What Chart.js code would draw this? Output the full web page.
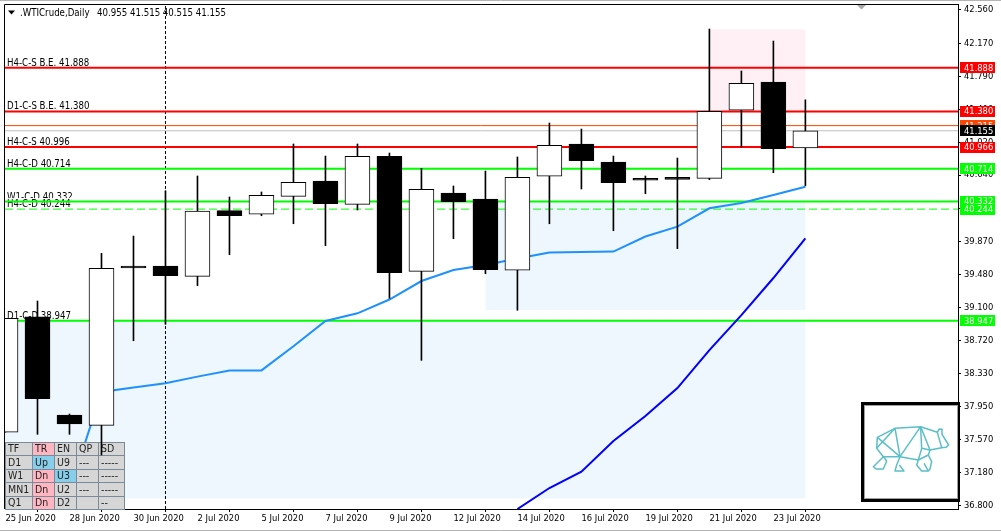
<!DOCTYPE html>
<html>
<head>
<meta charset="utf-8">
<script src="https://cdn.jsdelivr.net/npm/chart.js@4.4.0/dist/chart.umd.min.js"></script>
<style>
  html, body { margin: 0; padding: 0; background: #fff; }
  canvas { display: block; }
</style>
</head>
<body>
<canvas id="wtiChart" width="1001" height="532"></canvas>
<script>
// daily bars, 25 Jun .. 24 Jul 2020
const dates = ["25 Jun 2020", "26 Jun 2020", "28 Jun 2020", "29 Jun 2020", "30 Jun 2020", "1 Jul 2020",
  "2 Jul 2020", "3 Jul 2020", "5 Jul 2020", "6 Jul 2020", "7 Jul 2020", "8 Jul 2020", "9 Jul 2020",
  "10 Jul 2020", "12 Jul 2020", "13 Jul 2020", "14 Jul 2020", "15 Jul 2020", "16 Jul 2020", "17 Jul 2020",
  "19 Jul 2020", "20 Jul 2020", "21 Jul 2020", "22 Jul 2020", "23 Jul 2020", "24 Jul 2020"];
const opens  = [37.650, 38.993, 37.851, 37.731, 39.570, 39.583, 39.463, 40.226, 40.184, 40.393, 40.571, 40.300, 40.858,
  39.521, 40.431, 40.362, 39.533, 40.626, 41.001, 40.792, 40.585, 40.590, 40.602, 41.393, 41.722, 40.955];
const highs  = [38.975, 39.176, 37.862, 39.730, 39.931, 40.458, 40.629, 40.385, 40.443, 41.001, 40.861, 41.001, 40.896,
  40.718, 40.513, 40.687, 40.850, 41.245, 41.175, 40.861, 40.629, 40.838, 42.338, 41.850, 42.198, 41.515];
const lows   = [37.650, 37.626, 37.626, 37.386, 38.714, 38.905, 39.354, 39.714, 40.167, 40.074, 39.819, 40.234, 39.207,
  38.486, 39.900, 39.493, 39.068, 40.074, 40.478, 39.993, 40.423, 39.784, 40.586, 40.966, 40.667, 40.515];
const closes = [38.975, 38.040, 37.746, 39.556, 39.560, 39.470, 40.222, 40.167, 40.405, 40.556, 40.307, 40.858, 39.505,
  40.474, 40.330, 39.540, 40.614, 40.986, 40.807, 40.551, 40.580, 40.598, 41.381, 41.707, 40.946, 41.155];

// moving averages
const maFast = [null, null, 36.967, 38.118, 38.170, 38.219, 38.297, 38.367, 38.369, 38.649, 38.943, 39.033, 39.193,
  39.408, 39.536, 39.594, 39.670, 39.740, 39.746, 39.751, 39.926, 40.041, 40.254, 40.315, 40.408, 40.505];
const maSlow = [null, null, null, null, null, null, null, null, null, null, null, null, null,
  null, null, null, 36.757, 37.002, 37.191, 37.548, 37.839, 38.164, 38.605, 39.011, 39.443, 39.905];

// horizontal levels
const levelValues = [41.888, 41.380, 41.215, 41.155, 40.966, 40.714, 40.332, 40.244, 38.947];
const levelNotes = ["H4-C-S B.E. 41.888", "D1-C-S B.E. 41.380", "", "", "H4-C-S 40.996", "H4-C-D 40.714",
  "W1-C-D 40.332", "H4-C-D 40.244", "D1-C-D 38.947"];
const levelColors = ["#ff0000", "#ff0000", "#ff4500", "#c0c0c0", "#ff0000", "#00ff00", "#00ff00", "#00ff00", "#00ff00"];
const levelWidths = [2, 2, 1, 1, 2, 2, 2, 1, 2];
const levelDashed = [false, false, false, false, false, false, false, true, false];
const tagColors = ["#ff0000", "#ff0000", "#ff4500", "#000000", "#ff0000", "#00ff00", "#00ff00", "#00ff00", "#00ff00"];

// shaded zones (bar index from/to, price top/bottom)
const zoneFrom   = [22, 15, -1];
const zoneTo     = [25, 25, 25];
const zoneTop    = [42.335, 40.332, 38.947];
const zoneBottom = [41.380, 39.070, 36.881];
const zoneColors = ["#fff0f5", "#eef6fe", "#eef6fe"];

const cursorBar = 5;

const yTicks = [42.560, 42.170, 41.790, 41.400, 41.020, 40.640, 40.250, 39.870, 39.480, 39.100,
  38.720, 38.330, 37.950, 37.570, 37.180, 36.800];
const xTicks = [0, 2, 4, 6, 8, 10, 12, 14, 16, 18, 20, 22, 24];

const tableRows = [
  ["TF", "TR", "EN", "QP", "SD"],
  ["D1", "Up", "U9", "---", "-----"],
  ["W1", "Dn", "U3", "---", "-----"],
  ["MN1", "Dn", "U2", "---", "-----"],
  ["Q1", "Dn", "D2", "", "--"]
];
const tableTint = [
  [0, 2, 0, 0, 0],
  [0, 1, 0, 0, 0],
  [0, 2, 1, 0, 0],
  [0, 2, 0, 0, 0],
  [0, 2, 0, 0, 0]
];

const FONT = '"DejaVu Sans Condensed", "Liberation Sans", Arial, sans-serif';
const X_MIN = -0.5 / 32, X_MAX = 29.77;
const Y_MIN = 36.758, Y_MAX = 42.6285;
const last = closes.length - 1;

const idx = dates.map((d, i) => i);

const levelSets = levelValues.map((v, i) => ({
  type: "line",
  data: [{ x: X_MIN, y: v }, { x: X_MAX, y: v }],
  borderColor: levelColors[i],
  borderWidth: levelWidths[i],
  borderDash: levelDashed[i] ? [8, 4] : [],
  pointRadius: 0,
  order: 5
}));

// doji bodies show as a plain black bar
const bodyColor = (i) => (closes[i] >= opens[i] && Math.abs(closes[i] - opens[i]) > 0.02) ? "#ffffff" : "#000000";

const datasets = [
  ...levelSets,
  {
    type: "line",
    data: [{ x: cursorBar, y: Y_MIN }, { x: cursorBar, y: Y_MAX }],
    borderColor: "#000",
    borderWidth: 1,
    borderDash: [3, 2],
    pointRadius: 0,
    order: 5
  },
  {
    type: "line",
    data: idx.map(i => ({ x: i, y: maFast[i] })),
    borderColor: "#1e90ff",
    borderWidth: 2,
    pointRadius: 0,
    tension: 0,
    order: 3
  },
  {
    type: "line",
    data: idx.map(i => ({ x: i, y: maSlow[i] })),
    borderColor: "#0000ff",
    borderWidth: 2,
    pointRadius: 0,
    tension: 0,
    order: 3
  },
  {
    id: "wicks",
    type: "bar",
    data: idx.map(i => ({ x: i, y: [lows[i], highs[i]] })),
    backgroundColor: "#000",
    borderWidth: 0,
    barThickness: 1,
    grouped: false,
    order: 2
  },
  {
    type: "bar",
    data: idx.map(i => ({ x: i, y: [opens[i], closes[i]] })),
    backgroundColor: idx.map(bodyColor),
    borderColor: "#000",
    borderWidth: 1,
    borderSkipped: false,
    barThickness: 25,
    minBarLength: 2,
    grouped: false,
    order: 1
  }
];

function font(size) {
  return size + "px " + FONT;
}

const mtOverlay = {
  id: "mtOverlay",
  beforeDatasetsDraw(chart) {
    const { ctx, chartArea: a, scales: { x, y } } = chart;
    ctx.save();
    ctx.beginPath();
    ctx.rect(a.left, a.top, a.right - a.left, a.bottom - a.top);
    ctx.clip();
    zoneFrom.forEach((f, i) => {
      const x0 = x.getPixelForValue(f), x1 = x.getPixelForValue(zoneTo[i]);
      const y0 = y.getPixelForValue(zoneTop[i]), y1 = y.getPixelForValue(zoneBottom[i]);
      ctx.fillStyle = zoneColors[i];
      ctx.fillRect(x0, y0, x1 - x0, y1 - y0);
    });
    // level notes at the left
    ctx.font = font(9.6);
    ctx.textBaseline = "alphabetic";
    levelNotes.forEach((t, i) => {
      if (!t) return;
      const ly = y.getPixelForValue(levelValues[i]);
      const w = ctx.measureText(t).width;
      ctx.fillStyle = "#fff";
      ctx.fillRect(6, ly - 11, w + 2, 10);
      ctx.fillStyle = "#000";
      ctx.fillText(t, 7, ly - 2);
    });
    ctx.restore();
  },
  beforeDatasetDraw(chart, args) {
    if (chart.data.datasets[args.index].id !== "wicks") return;
    const { ctx } = chart;
    const cols = [5, 32, 54, 76, 98, 124];
    const rows = [442, 455, 469, 482, 496, 509];
    const tints = ["#d6d6d6", "#87ceeb", "#ffb6c1"];
    ctx.save();
    ctx.font = font(10.5);
    ctx.textBaseline = "middle";
    tableRows.forEach((r, ri) => {
      r.forEach((txt, ci) => {
        const x0 = cols[ci], y0 = rows[ri], w = cols[ci + 1] - x0, h = rows[ri + 1] - y0;
        ctx.fillStyle = tints[tableTint[ri][ci]];
        ctx.fillRect(x0, y0, w, h);
        ctx.strokeStyle = "#7a8a99";
        ctx.lineWidth = 1;
        ctx.strokeRect(x0 + 0.5, y0 + 0.5, w, h);
        ctx.fillStyle = "#222";
        ctx.fillText(txt, x0 + 3, y0 + h / 2 + 1);
      });
    });
    ctx.restore();
  },
  afterDraw(chart) {
    const { ctx, chartArea: a, scales: { y } } = chart;
    ctx.save();
    // chart frame (left / top)
    ctx.strokeStyle = "#000";
    ctx.lineWidth = 1;
    ctx.beginPath();
    ctx.moveTo(4.5, a.bottom);
    ctx.lineTo(4.5, 4.5);
    ctx.lineTo(a.right, 4.5);
    ctx.stroke();
    ctx.strokeStyle = "#b4b4b4";
    ctx.beginPath();
    ctx.moveTo(0, 0.5); ctx.lineTo(1001, 0.5);
    ctx.moveTo(0, 530.5); ctx.lineTo(1001, 530.5);
    ctx.stroke();

    // price tags on the right axis
    ctx.font = font(9.3);
    ctx.textBaseline = "middle";
    levelValues.forEach((v, i) => {
      const ly = y.getPixelForValue(v);
      ctx.fillStyle = tagColors[i];
      ctx.fillRect(960, Math.round(ly - 5.5), 35, 11);
      ctx.fillStyle = "#fff";
      ctx.fillText(v.toFixed(3), 964, ly + 0.5);
    });
    // current price tag
    const cy = y.getPixelForValue(closes[last]);
    ctx.fillStyle = "#000";
    ctx.fillRect(960, Math.round(cy - 5.5), 35, 11);
    ctx.fillStyle = "#fff";
    ctx.fillText(closes[last].toFixed(3), 964, cy + 0.5);

    // header
    ctx.fillStyle = "#000";
    ctx.beginPath();
    ctx.moveTo(8, 10.5); ctx.lineTo(15, 10.5); ctx.lineTo(11.5, 14.5); ctx.closePath();
    ctx.fill();
    ctx.font = font(9.6);
    ctx.textBaseline = "alphabetic";
    ctx.fillText(".WTICrude,Daily", 20, 16);
    ctx.fillText([opens[last], highs[last], lows[last], closes[last]].map(v => v.toFixed(3)).join(" "), 97, 16);

    // chart shift marker
    ctx.fillStyle = "#a8a8a8";
    ctx.beginPath();
    ctx.moveTo(857, 5); ctx.lineTo(866, 5); ctx.lineTo(861.5, 9.5); ctx.closePath();
    ctx.fill();

    // logo box
    ctx.fillStyle = "#000";
    ctx.fillRect(861, 402, 99, 100);
    ctx.fillStyle = "#a0a0a0";
    ctx.fillRect(864, 405, 94, 94);
    ctx.fillStyle = "#fff";
    ctx.fillRect(865, 406, 92, 92);
    const bear = [
      [[82, 127], [135, 100], [212, 95], [262, 112], [268, 102], [276, 103], [276, 118], [296, 150], [288, 157], [275, 158], [240, 165]],
      [[82, 127], [80, 160], [100, 185], [70, 215], [78, 222], [100, 222], [110, 198], [100, 185]],
      [[100, 185], [150, 185], [205, 195], [235, 180], [240, 165]],
      [[150, 185], [140, 210], [135, 228], [162, 228], [148, 210]],
      [[205, 195], [200, 210], [215, 228], [235, 228], [222, 205]],
      [[235, 180], [245, 200], [240, 222], [235, 228]],
      [[82, 127], [150, 185], [135, 100]],
      [[212, 95], [150, 185]],
      [[212, 95], [215, 160], [205, 195]],
      [[212, 95], [240, 165], [215, 160]],
      [[80, 160], [135, 100]],
      [[262, 112], [275, 158]]
    ];
    ctx.translate(850, 395);
    ctx.scale(1 / 3, 1 / 3);
    ctx.strokeStyle = "#5bbfc9";
    ctx.lineWidth = 4.5;
    ctx.lineJoin = "round";
    bear.forEach(pl => {
      ctx.beginPath();
      pl.forEach((p, k) => k ? ctx.lineTo(p[0], p[1]) : ctx.moveTo(p[0], p[1]));
      ctx.stroke();
    });
    ctx.restore();
  }
};

new Chart(document.getElementById("wtiChart").getContext("2d"), {
  type: "bar",
  data: { datasets: datasets },
  options: {
    responsive: false,
    devicePixelRatio: 1,
    animation: false,
    events: [],
    layout: { padding: { left: 5, top: 4, right: 0, bottom: 0 }, autoPadding: false },
    plugins: { legend: { display: false }, tooltip: { enabled: false } },
    scales: {
      x: {
        type: "linear",
        min: X_MIN,
        max: X_MAX,
        offset: false,
        grid: { drawOnChartArea: false, drawTicks: true, tickLength: 3, color: "#000" },
        border: { display: true, color: "#000" },
        afterBuildTicks: (s) => { s.ticks = xTicks.map(v => ({ value: v })); },
        afterFit: (s) => { s.height = 23; s.paddingLeft = 0; s.paddingRight = 0; },
        ticks: {
          autoSkip: false,
          maxRotation: 0,
          minRotation: 0,
          align: "start",
          padding: 1,
          color: "#000",
          font: { family: FONT, size: 9.3 },
          callback: (v) => dates[v]
        }
      },
      y: {
        type: "linear",
        position: "right",
        min: Y_MIN,
        max: Y_MAX,
        grid: { drawOnChartArea: false, drawTicks: true, tickLength: 3, color: "#000" },
        border: { display: true, color: "#000" },
        afterBuildTicks: (s) => { s.ticks = yTicks.map(v => ({ value: v })); },
        afterFit: (s) => { s.width = 43; s.paddingTop = 0; s.paddingBottom = 0; },
        ticks: {
          autoSkip: false,
          padding: 3,
          color: "#000",
          font: { family: FONT, size: 9.3 },
          callback: (v) => v.toFixed(3)
        }
      }
    }
  },
  plugins: [mtOverlay]
});
</script>
</body>
</html>
